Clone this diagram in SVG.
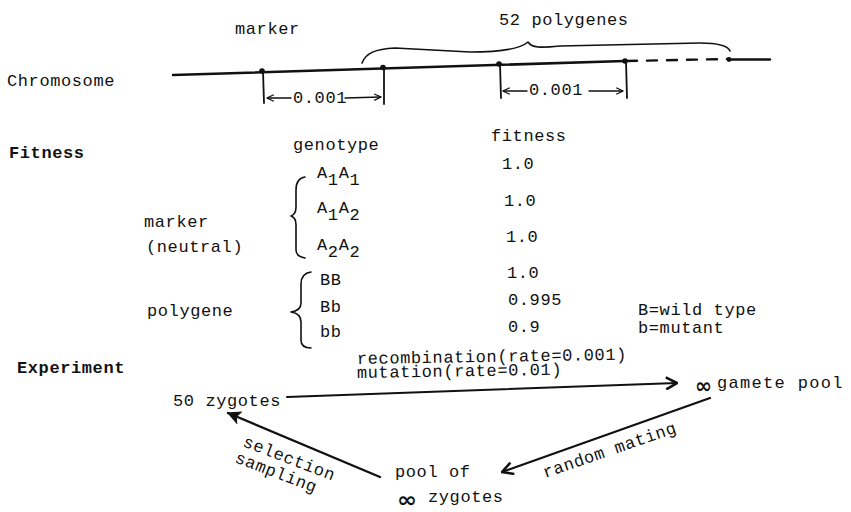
<svg xmlns="http://www.w3.org/2000/svg" width="851" height="512" viewBox="0 0 851 512">
<style>
text{font-family:"Liberation Mono","DejaVu Sans Mono",monospace;font-size:17px;letter-spacing:0.6px;fill:#111}
.b{font-weight:bold}
.inf{font-family:"DejaVu Sans",sans-serif;font-weight:bold;font-size:21px;letter-spacing:0}
.ln{stroke:#111;fill:none;stroke-linecap:round;stroke-linejoin:round}
.thin{stroke-width:1.4}
.brace{stroke-width:1.6}
</style>
<defs>
<marker id="sm" viewBox="0 0 10 10" refX="9.5" refY="5" markerWidth="8" markerHeight="8" orient="auto-start-reverse" markerUnits="userSpaceOnUse">
<path d="M1,1 L9.5,5 L1,9" fill="none" stroke="#111" stroke-width="1.5"/>
</marker>
<marker id="big" viewBox="0 0 14 14" refX="13" refY="7" markerWidth="14" markerHeight="14" orient="auto" markerUnits="userSpaceOnUse">
<path d="M2,1 L13,7 L2,13" fill="none" stroke="#111" stroke-width="2.6" stroke-linejoin="miter"/>
</marker>
<marker id="fill" viewBox="0 0 14 14" refX="13" refY="7" markerWidth="14" markerHeight="14" orient="auto" markerUnits="userSpaceOnUse">
<path d="M1,1 L13,7 L1,13 L4,7 Z" fill="#111" stroke="#111" stroke-width="1"/>
</marker>
</defs>

<g id="chromosome">
<text x="7" y="86">Chromosome</text>
<path class="ln" d="M173,75 L625,61" stroke-width="2.6"/>
<path class="ln" d="M627,61 L728,59" stroke-width="2.4" stroke-dasharray="10,10" stroke-linecap="butt"/>
<path class="ln" d="M728,59.5 L770,59.5" stroke-width="2.4"/>
<circle cx="262" cy="71" r="2.8" fill="#111"/>
<circle cx="383" cy="67.5" r="2.8" fill="#111"/>
<circle cx="499" cy="64" r="2.8" fill="#111"/>
<circle cx="625" cy="61" r="2.8" fill="#111"/>
<circle cx="729" cy="59.5" r="2.4" fill="#111"/>
<path class="ln" d="M263,71 L264,103" stroke-width="1.8"/>
<path class="ln" d="M384,67 L384,104" stroke-width="1.8"/>
<path class="ln" d="M500,64 L501,98" stroke-width="1.8"/>
<path class="ln" d="M626,61 L627,98" stroke-width="1.8"/>
<path class="ln thin" d="M291,98 L267,98" marker-end="url(#sm)"/>
<text x="293" y="103" font-size="16" letter-spacing="0.4">0.001</text>
<path class="ln thin" d="M345,98 L381,97" marker-end="url(#sm)"/>
<path class="ln thin" d="M527,91 L503,91" marker-end="url(#sm)"/>
<text x="529" y="95" font-size="16" letter-spacing="0.8">0.001</text>
<path class="ln thin" d="M589,91 L623,91" marker-end="url(#sm)"/>
</g>

<g id="marker-label">
<text x="235" y="34">marker</text>
</g>

<g id="polygenes-label">
<text x="499" y="25">52 polygenes</text>
<path class="ln brace" d="M362,63 C366,53 375,49 395,48 L470,52 C500,52 520,49 528,42 C532,48 540,48 560,46 L700,43 C720,43 728,46 730,51"/>
</g>

<g id="fitness">
<text class="b" x="9" y="158">Fitness</text>
<text x="293" y="150">genotype</text>
<text x="491" y="141">fitness</text>
<text x="144" y="227">marker</text>
<text x="146" y="252">(neutral)</text>
<path class="ln brace" d="M305,177 C298,178 296,183 296,190 L296,207 C296,212 294,215 291,216 C294,217 296,220 296,225 L296,250 C296,254 299,257 305,258"/>
<text x="317" y="178">A<tspan dy="7">1</tspan><tspan dy="-7">A</tspan><tspan dy="7">1</tspan></text>
<text x="317" y="213">A<tspan dy="7">1</tspan><tspan dy="-7">A</tspan><tspan dy="7">2</tspan></text>
<text x="317" y="250">A<tspan dy="7">2</tspan><tspan dy="-7">A</tspan><tspan dy="7">2</tspan></text>
<text x="502" y="169">1.0</text>
<text x="504" y="206">1.0</text>
<text x="506" y="242">1.0</text>
<text x="507" y="278">1.0</text>
<text x="147" y="316">polygene</text>
<path class="ln brace" d="M311,272 C304,273 301,277 301,284 L301,303 C301,308 298,311 291,312 C298,313 301,317 301,322 L301,340 C301,345 304,348 311,348"/>
<text x="320" y="285">BB</text>
<text x="320" y="312">Bb</text>
<text x="320" y="337">bb</text>
<text x="508" y="305">0.995</text>
<text x="508" y="332">0.9</text>
<text x="638" y="315">B=wild type</text>
<text x="638" y="333">b=mutant</text>
</g>

<g id="experiment-label">
<text class="b" x="17" y="373">Experiment</text>
</g>

<g id="zygotes50">
<text x="173" y="406">50 zygotes</text>
</g>

<g id="gamete-pool">
<text class="inf" x="695" y="393" textLength="17" lengthAdjust="spacingAndGlyphs">∞</text>
<text x="717" y="388" textLength="126">gamete pool</text>
</g>

<g id="pool-zygotes">
<text x="395" y="477">pool of</text>
<text class="inf" x="397" y="507" font-size="17" textLength="20" lengthAdjust="spacingAndGlyphs">∞</text>
<text x="428" y="502">zygotes</text>
</g>

<g id="connectors">
<path class="ln" d="M287,397 L677,383" stroke-width="2" marker-end="url(#big)"/>
<path class="ln" d="M710,398 L502,472" stroke-width="2.2" marker-end="url(#big)"/>
<path class="ln" d="M380,477 L228,413" stroke-width="2.4" marker-end="url(#fill)"/>
<text x="357" y="364" transform="rotate(-0.9 357 364)">recombination(rate=0.001)</text>
<text x="357" y="378" transform="rotate(-0.9 357 378)">mutation(rate=0.01)</text>
<text transform="translate(545,478) rotate(-19)">random mating</text>
<text transform="translate(242,446) rotate(21)">selection</text>
<text transform="translate(234,462) rotate(21)">sampling</text>
</g>
</svg>
